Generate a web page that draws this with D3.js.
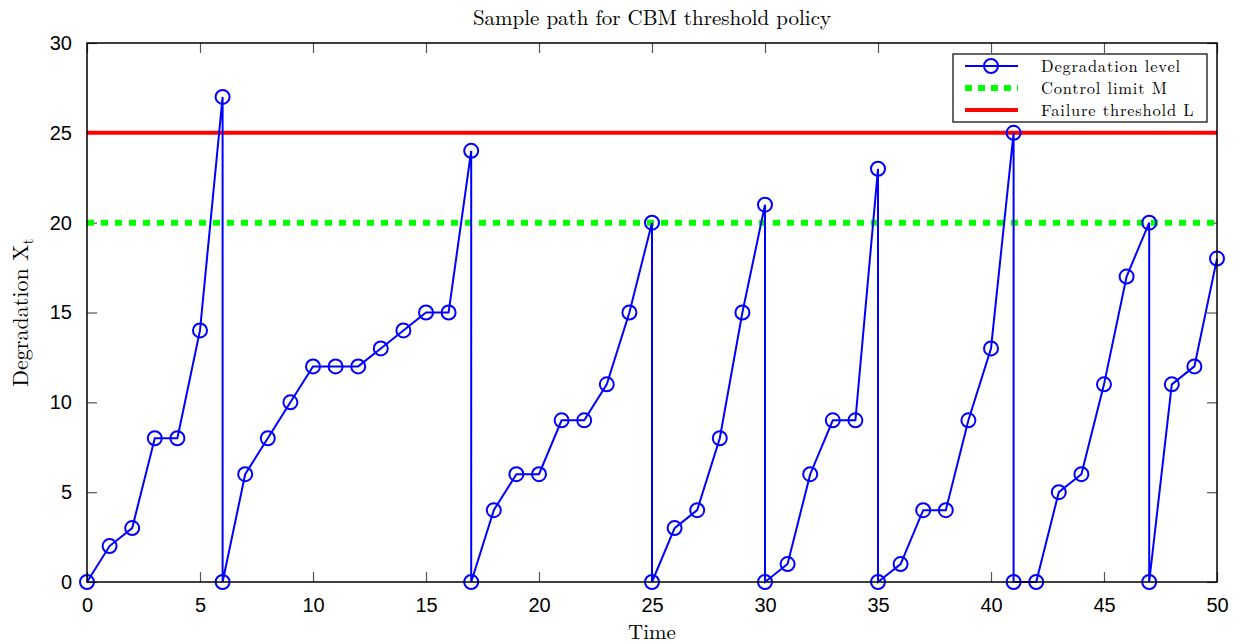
<!DOCTYPE html>
<meta charset="utf-8">
<html>
  <head>
    <script src="https://d3js.org/d3.v7.min.js"></script>
    <style>
      body { margin: 0; background: white; }
      .tick text { font-family: "Liberation Sans", Arial, sans-serif; font-size: 20px; }
      .serif { font-family: "Latin Modern Roman", "Liberation Serif", "DejaVu Serif", serif; }
    </style>
  </head>
  <body>
    <div id="chart"></div>
    <script>
      // time steps (a repeated time means an instant replacement drop)
      const times = [0,1,2,3,4,5,6,6,7,8,9,10,11,12,13,14,15,16,17,17,18,19,20,21,22,23,24,25,25,
                     26,27,28,29,30,30,31,32,33,34,35,35,36,37,38,39,40,41,41,42,43,44,45,46,47,47,48,49,50];
      const levels = [0,2,3,8,8,14,27,0,6,8,10,12,12,12,13,14,15,15,24,0,4,6,6,9,9,11,15,20,0,
                      3,4,8,15,21,0,1,6,9,9,23,0,1,4,4,9,13,25,0,0,5,6,11,17,20,0,11,12,18];
      const controlLimit = 20;
      const failureThreshold = 25;
      const xTicks = [0,5,10,15,20,25,30,35,40,45,50];
      const yTicks = [0,5,10,15,20,25,30];
      const legendItems = ["Degradation level", "Control limit M", "Failure threshold L"];

      const width = 1239, height = 644;
      const margin = {top: 43, right: 22, bottom: 62, left: 87};
      const w = width - margin.left - margin.right;
      const h = height - margin.top - margin.bottom;

      const svg = d3.select("#chart").append("svg")
        .attr("width", width).attr("height", height);
      const g = svg.append("g").attr("transform", `translate(${margin.left},${margin.top})`);

      const x = d3.scaleLinear().domain([0, 50]).range([0, w]);
      const y = d3.scaleLinear().domain([0, 30]).range([h, 0]);

      // axes with inward ticks on all four sides
      const tickLen = 10;
      g.append("g").attr("transform", `translate(0,${h})`)
        .call(d3.axisBottom(x).tickValues(xTicks).tickSize(-tickLen).tickPadding(tickLen + 6))
        .call(a => a.select(".domain").remove());
      g.append("g")
        .call(d3.axisTop(x).tickValues(xTicks).tickSize(-tickLen).tickFormat(""))
        .call(a => a.select(".domain").remove());
      g.append("g")
        .call(d3.axisLeft(y).tickValues(yTicks).tickSize(-tickLen).tickPadding(tickLen + 5))
        .call(a => a.select(".domain").remove());
      g.append("g").attr("transform", `translate(${w},0)`)
        .call(d3.axisRight(y).tickValues(yTicks).tickSize(-tickLen).tickFormat(""))
        .call(a => a.select(".domain").remove());
      g.selectAll(".tick line").attr("stroke", "#555").attr("stroke-width", 1.2);
      g.selectAll(".tick text").attr("fill", "#000");

      // threshold lines
      g.append("line")
        .attr("x1", x(0)).attr("x2", x(50))
        .attr("y1", y(failureThreshold)).attr("y2", y(failureThreshold))
        .attr("stroke", "#ff0000").attr("stroke-width", 4);
      g.append("line")
        .attr("x1", x(0)).attr("x2", x(50))
        .attr("y1", y(controlLimit)).attr("y2", y(controlLimit))
        .attr("stroke", "#00ff00").attr("stroke-width", 6).attr("stroke-dasharray", "7,7");

      const pts = times.map((t, i) => ({t: t, v: levels[i]}));
      const line = d3.line().x(d => x(d.t)).y(d => y(d.v));
      g.append("path").datum(pts)
        .attr("d", line).attr("fill", "none")
        .attr("stroke", "#0000ff").attr("stroke-width", 2);
      g.selectAll(".marker").data(pts).enter().append("circle")
        .attr("class", "marker")
        .attr("cx", d => x(d.t)).attr("cy", d => y(d.v)).attr("r", 7)
        .attr("fill", "none").attr("stroke", "#0000ff").attr("stroke-width", 2);

      // plot box
      g.append("rect").attr("width", w).attr("height", h)
        .attr("fill", "none").attr("stroke", "#000").attr("stroke-width", 1.5);

      // titles
      svg.append("text").attr("class", "serif")
        .attr("x", margin.left + w / 2).attr("y", 25)
        .attr("text-anchor", "middle").attr("font-size", 21)
        .text("Sample path for CBM threshold policy");
      svg.append("text").attr("class", "serif")
        .attr("x", margin.left + w / 2).attr("y", 639)
        .attr("text-anchor", "middle").attr("font-size", 21)
        .text("Time");
      const yl = svg.append("text").attr("class", "serif")
        .attr("transform", `translate(28,${margin.top + h / 2}) rotate(-90)`)
        .attr("text-anchor", "middle").attr("font-size", 22);
      yl.append("tspan").text("Degradation X");
      yl.append("tspan").attr("dy", 5).attr("font-size", 16).text("t");

      // legend
      const lg = svg.append("g").attr("transform", "translate(953,54)");
      lg.append("rect").attr("width", 254).attr("height", 68)
        .attr("fill", "white").attr("stroke", "#000").attr("stroke-width", 1.2);
      const rowY = [12, 34, 56];
      legendItems.forEach((name, i) => {
        const ly = rowY[i];
        const seg = lg.append("line").attr("x1", 12).attr("x2", 65).attr("y1", ly).attr("y2", ly);
        if (i === 0) {
          seg.attr("stroke", "#0000ff").attr("stroke-width", 2);
          lg.append("circle").attr("cx", 38).attr("cy", ly).attr("r", 7)
            .attr("fill", "none").attr("stroke", "#0000ff").attr("stroke-width", 2);
        } else if (i === 1) {
          seg.attr("stroke", "#00ff00").attr("stroke-width", 6).attr("stroke-dasharray", "7,6");
        } else {
          seg.attr("stroke", "#ff0000").attr("stroke-width", 4);
        }
        lg.append("text").attr("class", "serif")
          .attr("x", 88).attr("y", ly + 6).attr("font-size", 16.5)
          .attr("letter-spacing", 0.8)
          .text(name);
      });
    </script>
  </body>
</html>
